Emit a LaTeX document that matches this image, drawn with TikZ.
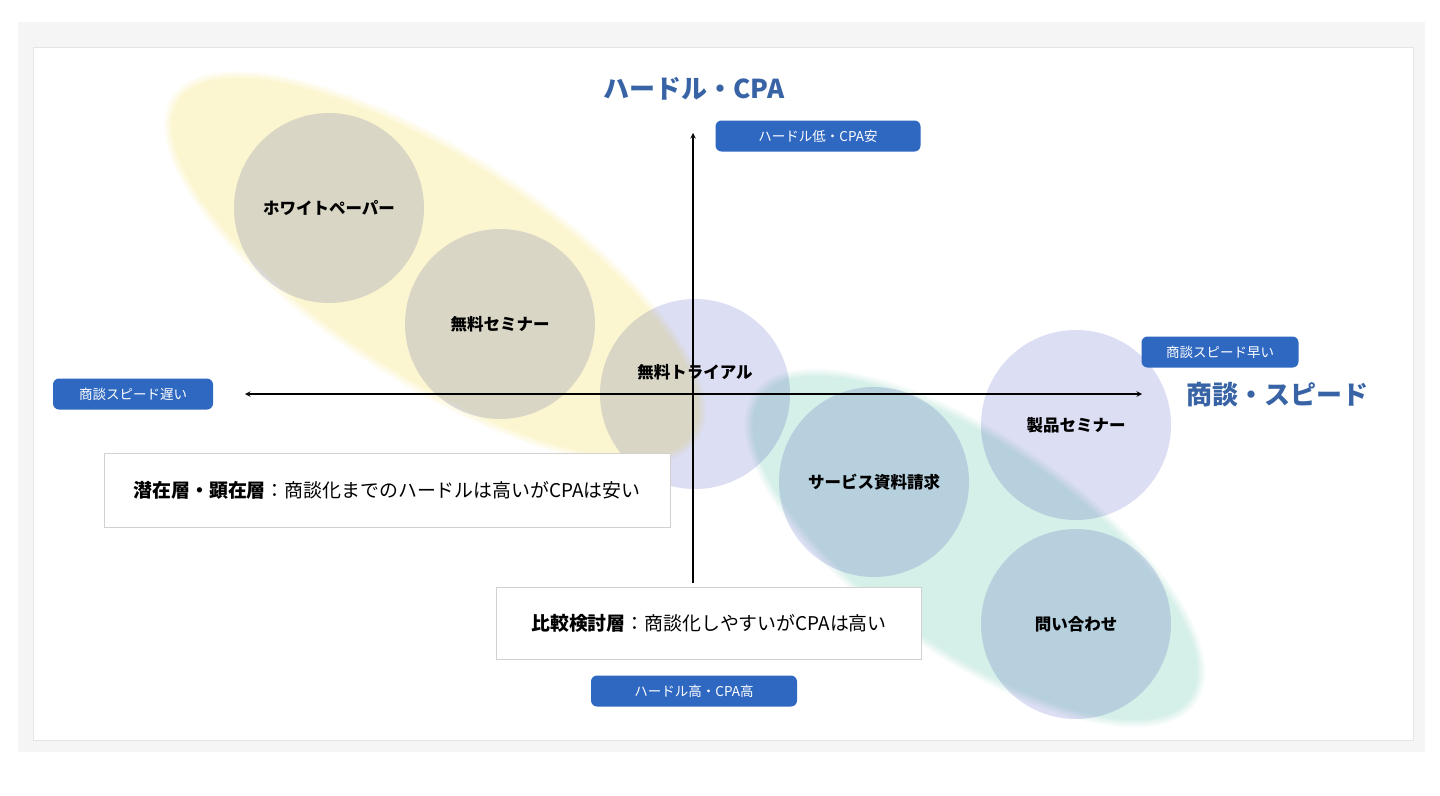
\documentclass[tikz,border=0pt]{standalone}
\usepackage{fontspec}
\setmainfont{Noto Sans CJK JP}
\usetikzlibrary{positioning}
\definecolor{hdblue}{RGB}{47,104,193}
\definecolor{hdtitle}{RGB}{56,100,166}
\definecolor{hdyellow}{RGB}{252,246,208}
\definecolor{hdteal}{RGB}{213,239,233}
\definecolor{hdbubble}{RGB}{220,222,243}
\definecolor{hdframe}{RGB}{245,245,245}
\begin{document}
\begin{tikzpicture}[x=1pt,y=-1pt,>=stealth,
  tag/.style={fill=hdblue,text=white,rounded corners=6pt,minimum width=#1,minimum height=31pt,inner sep=0pt,font=\fontsize{13.5}{15}\selectfont},
  bubble/.style={circle,fill=hdbubble,minimum size=190pt,inner sep=0pt,font=\bfseries\fontsize{16.5}{18}\selectfont},
  axtitle/.style={text=hdtitle,font=\bfseries\fontsize{26}{30}\selectfont},
  note/.style={fill=white,draw=black!18,minimum height=#1,inner sep=0pt,font=\fontsize{18.9}{22}\selectfont}]
  \useasboundingbox (0,0) rectangle (1440,795);
  \fill[hdframe] (18,22) rectangle (1425,752);
  \filldraw[fill=white,draw=black!10] (33,47) rectangle (1413,740);
  % groups, soft edges
  \foreach \d/\c in {8/20,6/40,4/60,2/80,0/100} {
    \fill[hdyellow!\c] (435,268) ellipse [x radius=306pt+\d pt,y radius=108pt+\d pt,rotate=-33];
    \fill[hdteal!\c] (975,548) ellipse [x radius=262pt+\d pt,y radius=102pt+\d pt,rotate=-35];
  }
  \begin{scope}[blend mode=multiply]
    \node[bubble] (wp) at (329,208) {ホワイトペーパー};
    \node[bubble] (fseminar) at (500,324) {無料セミナー};
    \node[bubble,label={[yshift=22pt,font=\bfseries\fontsize{16.5}{18}\selectfont]center:無料トライアル}] (trial) at (695,394) {};
    \node[bubble] (request) at (874,482) {サービス資料請求};
    \node[bubble] (pseminar) at (1076,425) {製品セミナー};
    \node[bubble] (inquiry) at (1076,624) {問い合わせ};
  \end{scope}
  % axes
  \coordinate (xl) at (245,394);
  \coordinate (xr) at (1142,394);
  \coordinate (yt) at (693,133);
  \coordinate (yb) at (693,583);
  \draw[<->,line width=1.4pt] (xl) -- (xr);
  \draw[->,line width=1.4pt] (yb) -- (yt);
  \node[axtitle] (hurdle) at (694,89) {ハードル・CPA};
  \node[axtitle] (speed) at (1277,395) {商談・スピード};
  \node[tag=205pt] (low) at (818,136) {ハードル低・CPA安};
  \node[tag=206pt] (high) at (694,691) {ハードル高・CPA高};
  \node[tag=160pt] (slow) at (133,394) {商談スピード遅い};
  \node[tag=157pt] (fast) at (1220,352) {商談スピード早い};
  % notes
  \node[note=74pt,minimum width=566pt] (latent) at (387,490) {\textbf{潜在層・顕在層}：商談化までのハードルは高いがCPAは安い};
  \node[note=72pt,minimum width=425pt] (compare) at (709,623) {\textbf{比較検討層}：商談化しやすいがCPAは高い};
\end{tikzpicture}
\end{document}
